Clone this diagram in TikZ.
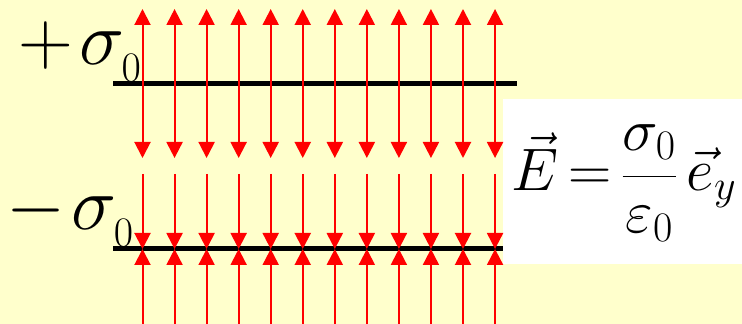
\RequirePackage{fix-cm}
\documentclass[tikz,border=0pt]{standalone}
\usepackage{amsmath}
\usepackage{xcolor}
\usetikzlibrary{arrows.meta}
\definecolor{paper}{RGB}{255,255,204}
\newcommand{\lowidx}[1]{\hbox{\fontsize{42}{42}\selectfont$#1$}}
\begin{document}
\begin{tikzpicture}[x=1pt,y=1pt,>={Triangle[width=16pt,length=16pt]},
		field/.style={red, line width=2pt},
		plate/.style={line width=5pt},
		charge/.style={font=\fontsize{76}{80}\selectfont, inner sep=0pt, anchor=base west},
		formula/.style={font=\fontsize{60}{64}\selectfont, inner sep=0pt, anchor=base west}]
		\fill[paper] (0,0) rectangle (742,324);
		\useasboundingbox (0,0) rectangle (742,324);
		
		\fill[white] (503,60) rectangle (742,225);
		\draw[plate] (113,240) to (517,240);
		\draw[plate] (113,75) to (503,75);
		
		\foreach \i in {0,...,11}
		{
		\draw[field,<->] (142.5+32.05*\i,315) to (142.5+32.05*\i,166);
		\draw[field,->] (142.5+32.05*\i,150) to (142.5+32.05*\i,75);
		\draw[field,->] (142.5+32.05*\i,0) to (142.5+32.05*\i,75);
		}
		
		\node[charge] (plus) at (18,259) {$+\mkern1.5mu\sigma_{\lower5pt\lowidx{0}}$};
		\node[charge] (minus) at (6,94) {$-\mkern1.5mu\sigma_{\lower5pt\lowidx{0}}$};
		\node[formula] (field) at (511,133) {$\thickmuskip=3mu\vec E=\dfrac{\sigma_{\lowidx{0}}}{\varepsilon_{\lowidx{0}}}\,\vec e_{\lowidx{y}}$};
	\end{tikzpicture}
\end{document}
